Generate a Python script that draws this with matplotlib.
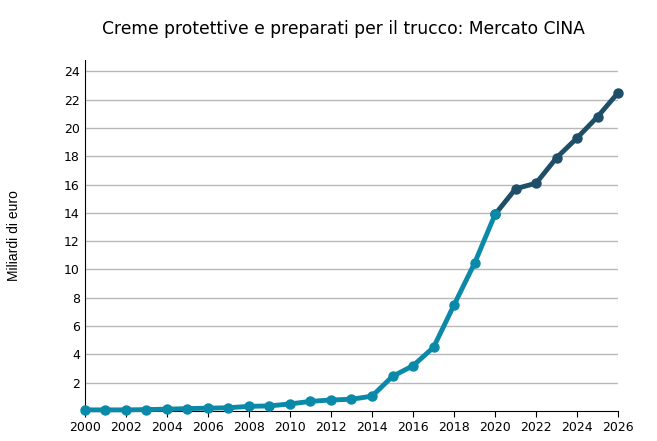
import matplotlib
matplotlib.use('Agg')
import matplotlib.pyplot as plt

# ── Data ─────────────────────────────────────────────
years_hist = [2000, 2001, 2002, 2003, 2004, 2005, 2006, 2007, 2008, 2009, 2010,
              2011, 2012, 2013, 2014, 2015, 2016, 2017, 2018, 2019, 2020]
values_hist = [0.08, 0.08, 0.08, 0.1, 0.13, 0.17, 0.2, 0.23, 0.33, 0.36, 0.5,
               0.68, 0.78, 0.83, 1.05, 2.45, 3.2, 4.5, 7.5, 10.45, 13.9]
years_fcst = [2020, 2021, 2022, 2023, 2024, 2025, 2026]
values_fcst = [13.9, 15.7, 16.1, 17.9, 19.3, 20.8, 22.5]

TEAL = '#0a8aa8'
DARK = '#1f4f68'
GRID = '#b8b8b8'

fig = plt.figure(figsize=(6.57, 4.41), dpi=100)
ax = fig.add_axes([0.129, 0.068, 0.812, 0.796])

ax.plot(years_fcst, values_fcst, color=DARK, linewidth=3.5, marker='o',
        markersize=6.5, zorder=3)
ax.plot(years_hist, values_hist, color=TEAL, linewidth=3.5, marker='o',
        markersize=6.5, zorder=4)

ax.set_xlim(2000, 2026)
ax.set_ylim(0, 24.8)
ax.set_xticks(range(2000, 2027, 2))
ax.set_yticks(range(2, 25, 2))
ax.tick_params(labelsize=9, length=4)
ax.yaxis.grid(True, color=GRID, linewidth=1)
ax.set_axisbelow(True)
for s in ['top', 'right']:
    ax.spines[s].set_visible(False)
ax.tick_params(axis='y', length=0)

fig.text(0.522, 0.935, 'Creme protettive e preparati per il trucco: Mercato CINA',
         ha='center', va='center', fontsize=12.3)
fig.text(0.021, 0.465, 'Miliardi di euro', rotation=90, ha='center',
         va='center', fontsize=10, family='Liberation Sans')

for line in ax.lines:
    line.set_clip_on(False)

fig.savefig('out.png', dpi=100)
